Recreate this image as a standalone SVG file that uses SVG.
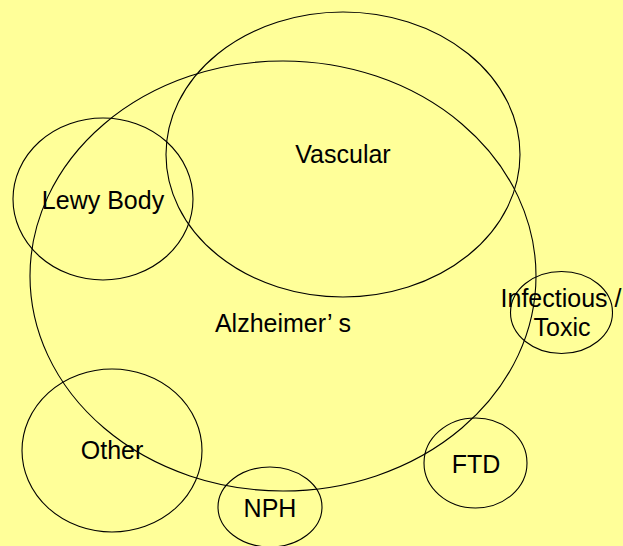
<svg xmlns="http://www.w3.org/2000/svg" width="623" height="546" viewBox="0 0 623 546">
<style>
ellipse{fill:none;stroke:#000;stroke-width:1.1}
text{font-family:"Liberation Sans",Arial,sans-serif;font-size:25px;fill:#000;text-anchor:middle}
</style>
<rect width="623" height="546" fill="#FFFF99"/>
<g id="alzheimers"><ellipse cx="283" cy="276" rx="253" ry="215"/><text x="283" y="332">Alzheimer’ s</text></g>
<g id="vascular"><ellipse cx="343" cy="154.5" rx="177" ry="142.5"/><text x="343" y="163">Vascular</text></g>
<g id="lewy"><ellipse cx="103" cy="199" rx="90" ry="81"/><text x="103" y="209">Lewy Body</text></g>
<g id="infectious"><ellipse cx="561.5" cy="312.5" rx="51" ry="41"/><text x="561" y="307">Infectious /</text><text x="562" y="336">Toxic</text></g>
<g id="other"><ellipse cx="112" cy="450.5" rx="90" ry="81.5"/><text x="112" y="459">Other</text></g>
<g id="nph"><ellipse cx="270" cy="507" rx="52" ry="40"/><text x="270" y="517">NPH</text></g>
<g id="ftd"><ellipse cx="475.5" cy="463" rx="51.5" ry="45"/><text x="476" y="473">FTD</text></g>
<g id="connectors"></g>
</svg>
